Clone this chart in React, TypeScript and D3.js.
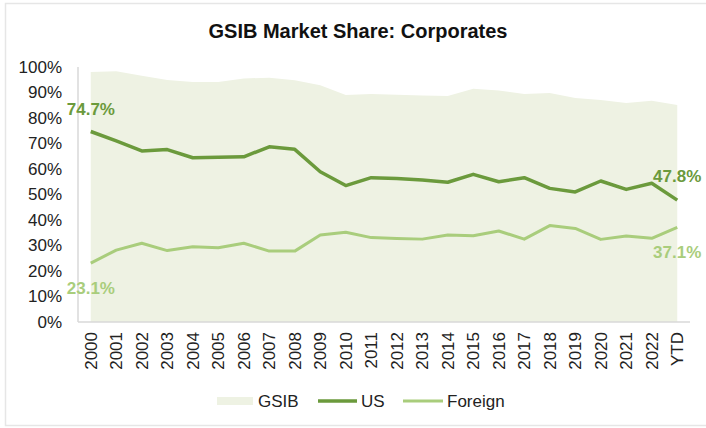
import React from 'react';
import * as d3 from 'd3';

const years = ['2000', '2001', '2002', '2003', '2004', '2005', '2006', '2007', '2008', '2009', '2010', '2011',
  '2012', '2013', '2014', '2015', '2016', '2017', '2018', '2019', '2020', '2021', '2022', 'YTD'];
const gsib = [98.0, 98.3, 96.6, 94.9, 94.1, 94.1, 95.5, 95.8, 94.8, 92.8, 89.0, 89.4,
  89.1, 88.8, 88.6, 91.5, 90.8, 89.4, 89.8, 87.8, 87.1, 85.9, 86.8, 85.1];
const us = [74.7, 71.0, 67.1, 67.6, 64.4, 64.6, 64.8, 68.7, 67.7, 58.9, 53.5, 56.6,
  56.3, 55.7, 54.8, 57.9, 55.0, 56.6, 52.4, 51.0, 55.3, 52.0, 54.4, 47.8];
const foreign = [23.1, 28.2, 30.9, 28.0, 29.5, 29.1, 30.9, 27.8, 27.8, 34.1, 35.2, 33.1,
  32.7, 32.5, 34.1, 33.8, 35.7, 32.5, 37.8, 36.7, 32.4, 33.7, 32.8, 37.1];
const yTicks = [0, 10, 20, 30, 40, 50, 60, 70, 80, 90, 100];

const W = 706;
const H = 428;
const font = 'Liberation Sans, Arial, Helvetica, sans-serif';
const usColor = '#6b9a3c';
const foreignColor = '#a9cd7c';
const areaColor = '#eef2e3';

export default function App() {
  // plot box
  const left = 78, right = 690, top = 67, bottom = 322;

  const x = d3.scalePoint<string>().domain(years).range([left, right]).padding(0.5);
  const y = d3.scaleLinear().domain([0, 100]).range([bottom, top]);

  const area = d3.area<number>()
    .x((d, i) => x(years[i])!)
    .y0(y(0))
    .y1(d => y(d));
  const line = d3.line<number>()
    .x((d, i) => x(years[i])!)
    .y(d => y(d));

  const first = years[0];
  const last = years[years.length - 1];

  return (
    <svg width={W} height={H} style={{ position: 'absolute', left: 0, top: 0 }} fontFamily={font}>
      <rect x={0} y={0} width={W} height={H} fill="#fff" />
      {/* faint outer frame */}
      <rect x={5.5} y={3.5} width={W} height={422} fill="none" stroke="#e6e6e6" strokeWidth={1.5} />

      <text x={358} y={38} textAnchor="middle" fontSize={20} fontWeight="bold" fill="#111">
        GSIB Market Share: Corporates
      </text>

      <path d={area(gsib)!} fill={areaColor} />

      {/* axes */}
      <line x1={left} x2={left} y1={top} y2={bottom} stroke="#d9d9d9" strokeWidth={1.5} />
      <line x1={left} x2={right} y1={bottom} y2={bottom} stroke="#d9d9d9" strokeWidth={1.5} />

      {yTicks.map(t => (
        <text key={t} x={62} y={y(t)} dy="0.35em" textAnchor="end" fontSize={17} fill="#222">
          {t}%
        </text>
      ))}

      {years.map(yr => (
        <text key={yr} transform={`translate(${x(yr)}, ${bottom + 10}) rotate(-90)`}
          dy="0.35em" textAnchor="end" fontSize={17} fill="#222">
          {yr}
        </text>
      ))}

      <path d={line(us)!} fill="none" stroke={usColor} strokeWidth={3.5} strokeLinejoin="round" />
      <path d={line(foreign)!} fill="none" stroke={foreignColor} strokeWidth={3} strokeLinejoin="round" />

      {/* end labels */}
      <text x={x(first)! - 24} y={y(us[0]) - 22} dy="0.35em" fontSize={17} fontWeight="bold" fill={usColor}>
        {us[0].toFixed(1)}%
      </text>
      <text x={x(first)! - 24} y={y(foreign[0]) + 25} dy="0.35em" fontSize={17} fontWeight="bold" fill={foreignColor}>
        {foreign[0].toFixed(1)}%
      </text>
      <text x={x(last)! + 24} y={y(us[us.length - 1]) - 24} dy="0.35em" textAnchor="end" fontSize={17} fontWeight="bold" fill={usColor}>
        {us[us.length - 1].toFixed(1)}%
      </text>
      <text x={x(last)! + 24} y={y(foreign[foreign.length - 1]) + 25} dy="0.35em" textAnchor="end" fontSize={17} fontWeight="bold" fill={foreignColor}>
        {foreign[foreign.length - 1].toFixed(1)}%
      </text>

      {/* legend */}
      <g transform="translate(0, 401)">
        <rect x={217} y={-4} width={36} height={8} fill={areaColor} />
        <text x={258} dy="0.35em" fontSize={17} fill="#222">GSIB</text>
        <line x1={318} x2={357} stroke={usColor} strokeWidth={3.5} />
        <text x={361} dy="0.35em" fontSize={17} fill="#222">US</text>
        <line x1={403} x2={443} stroke={foreignColor} strokeWidth={3} />
        <text x={447} dy="0.35em" fontSize={17} fill="#222">Foreign</text>
      </g>
    </svg>
  );
}
